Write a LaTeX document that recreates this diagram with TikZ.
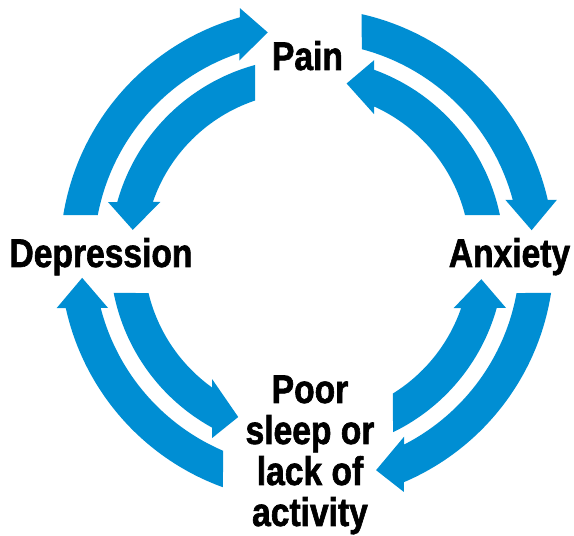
\documentclass[tikz,border=0pt]{standalone}
\usepackage{fontspec}
\setmainfont{Liberation Sans}[FakeStretch=0.84, BoldFeatures={FakeBold=1.5}]
\usetikzlibrary{calc}

\definecolor{cycleblue}{RGB}{0,142,211}

\tikzset{
	stage/.style={font=\bfseries\fontsize{40}{41}\selectfont, inner sep=0pt, align=center},
	arrowfill/.style={fill=cycleblue},
}

% #1 inner radius, #2 outer radius, #3/#4 tail angles, #5/#6 head base angles, #7 tip angle
\newcommand{\cyclearrow}[7]{%
	\pgfmathsetmacro{\rtip}{(#1+#2)/2-4}
	\coordinate (bi) at ($(hub)+(#5:#1)$);
	\coordinate (bo) at ($(hub)+(#6:#2)$);
	\fill[arrowfill] ($(hub)+(#3:#1)$) arc[start angle=#3, end angle=#5, radius=#1]
		-- ($(bi)!-0.21!(bo)$) -- ($(hub)+(#7:\rtip)$) -- ($(bo)!-0.26!(bi)$)
		-- (bo) arc[start angle=#6, end angle=#4, radius=#2] -- cycle;
}

\begin{document}
\begin{tikzpicture}[x=1pt, y=1pt]
	\useasboundingbox (0, 0) rectangle (574, 536);
	\coordinate (hub) at (307, 281);
	% outer ring, clockwise
	\cyclearrow{213}{247}{169.2}{170.7}{108.5}{105.8}{100}
	\cyclearrow{213}{247}{75.1}{77.2}{15.0}{12.9}{6.3}
	\cyclearrow{213}{247}{-10.3}{-8.8}{-62.9}{-66.9}{-72.2}
	\cyclearrow{213}{247}{246.8}{250.1}{194.4}{192.4}{185.8}
	% inner ring, counterclockwise
	\cyclearrow{163}{197}{108.6}{105.3}{161.0}{164.4}{171.8}
	\cyclearrow{163}{197}{14.2}{11.7}{65.7}{70.1}{77}
	\cyclearrow{163}{197}{193.5}{191.1}{234.4}{241.2}{247}
	\cyclearrow{163}{197}{-58.2}{-64.1}{-19.0}{-15.6}{-7.9}
	% labels
	\node[stage, anchor=base] at (307.5, 466) (pain) {Pain};
	\node[stage, anchor=base] at (509.5, 269) (anxiety) {Anxiety};
	\node[stage, anchor=base] at (101, 269) (depression) {Depression};
	\node[stage, anchor=base] at (310, 10) (sleep) {Poor\\sleep or\\lack of\\activity};
\end{tikzpicture}
\end{document}
